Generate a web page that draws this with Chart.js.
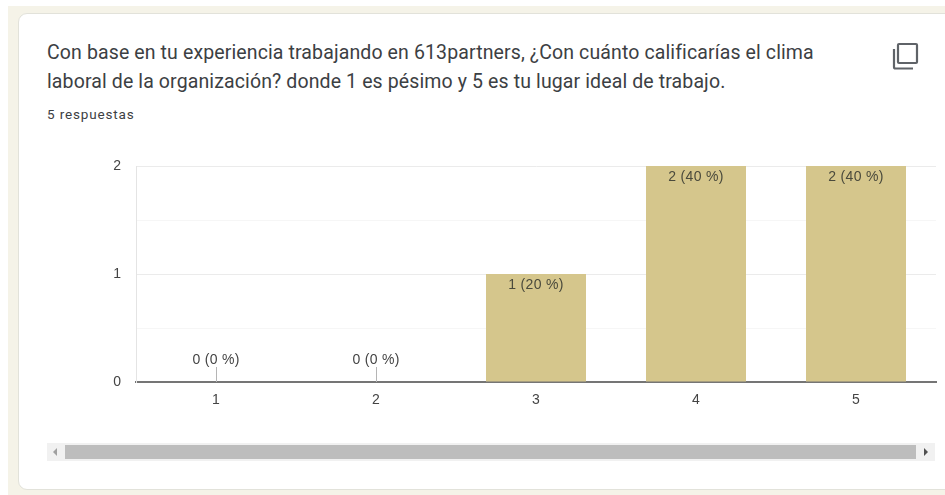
<!DOCTYPE html>
<html lang="es">
<head>
<meta charset="utf-8">
<title>Clima laboral</title>
<script src="https://cdn.jsdelivr.net/npm/chart.js@4"></script>
<style>
html, body { margin: 0; padding: 0; background: #fff; }
body { width: 945px; height: 495px; position: relative; overflow: hidden; }
#page { position: absolute; left: 8px; top: 6px; right: 0; bottom: 0; background: #f5f3e8; }
#card { position: absolute; left: 18px; top: 13px; width: 960px; height: 477px; box-sizing: border-box;
  background: #fff; border: 1px solid #e2e2da; border-radius: 9px; }
#title { position: absolute; left: 47px; top: 38px; width: 830px; margin: 0; font: 19.5px/29px Roboto, sans-serif;
  color: #3c4043; letter-spacing: 0.12px; }
#count { position: absolute; left: 47px; top: 106px; font: 13.5px/16px Roboto, sans-serif; color: #3c4043; letter-spacing: 0.85px; }
#copy { position: absolute; left: 889px; top: 40px; }
#wrap { position: absolute; left: 0; top: 150px; width: 945px; height: 270px; }
#track { position: absolute; left: 47px; top: 443px; width: 888px; height: 18px; background: #f1f1f1; }
#thumb { position: absolute; left: 18px; top: 2px; width: 851px; height: 14px; background: #bdbdbd; }
.arrow { position: absolute; top: 5px; width: 0; height: 0; border-top: 4px solid transparent; border-bottom: 4px solid transparent; }
#arrow-l { left: 6px; border-right: 4px solid #a0a0a0; }
#arrow-r { right: 7px; border-left: 4px solid #505050; }
</style>
</head>
<body>
<div id="page"></div>
<div id="card"></div>
<p id="title">Con base en tu experiencia trabajando en 613partners, ¿Con cuánto calificarías el clima<br>laboral de la organización? donde 1 es pésimo y 5 es tu lugar ideal de trabajo.</p>
<div id="count">5 respuestas</div>
<svg id="copy" width="32" height="32" viewBox="0 0 32 32" fill="none" stroke="#5f6368" stroke-width="2.2">
  <rect x="9" y="4" width="19" height="19" rx="1"/>
  <path d="M5 9v18a1.5 1.5 0 0 0 1.5 1.5H24"/>
</svg>
<div id="wrap"><canvas id="myChart" width="945" height="270"></canvas></div>
<div id="track">
  <div id="thumb"></div>
  <div class="arrow" id="arrow-l"></div>
  <div class="arrow" id="arrow-r"></div>
</div>
<script>
var categories = ["1", "2", "3", "4", "5"];
var counts = [0, 0, 1, 2, 2];
var percents = [0, 0, 20, 40, 40];

var fontFamily = "'Liberation Sans', Arial, sans-serif";

// the value labels: inside the bar, or over a small stem when the value is 0
var barLabels = {
  id: "barLabels",
  afterDatasetsDraw: function(chart) {
    var c = chart.ctx;
    var meta = chart.getDatasetMeta(0);
    c.save();
    c.font = "14px " + fontFamily;
    c.letterSpacing = "0.3px";
    c.textAlign = "center";
    c.textBaseline = "middle";
    for (var i = 0; i < counts.length; i++) {
      var bar = meta.data[i];
      var text = counts[i] + " (" + percents[i] + " %)";
      if (counts[i] == 0) {
        c.fillStyle = "#444";
        c.fillText(text, bar.x, bar.y - 22);
        c.strokeStyle = "#b5b5b5";
        c.lineWidth = 1;
        c.beginPath();
        c.moveTo(Math.round(bar.x) + 0.5, bar.y);
        c.lineTo(Math.round(bar.x) + 0.5, bar.y - 15);
        c.stroke();
      } else {
        c.fillStyle = "#4a4a3c";
        c.fillText(text, bar.x, bar.y + 11);
      }
    }
    c.restore();
  }
};

var myChart = new Chart(document.getElementById("myChart"), {
  type: "bar",
  data: {
    labels: categories,
    datasets: [{
      data: counts,
      backgroundColor: "#d5c68c",
      categoryPercentage: 0.625,
      barPercentage: 1
    }]
  },
  options: {
    responsive: false,
    animation: false,
    layout: { padding: { top: 16, right: 9, left: 0, bottom: 0 } },
    plugins: {
      legend: { display: false },
      tooltip: { enabled: false }
    },
    scales: {
      x: {
        afterFit: function(scale) { scale.height = 38; },
        grid: { display: false },
        border: { color: "#757575", width: 2 },
        ticks: { color: "#444", font: { family: fontFamily, size: 14 }, padding: 2, maxRotation: 0 }
      },
      y: {
        min: 0,
        max: 2,
        afterFit: function(scale) {
          scale.width = 136;
          scale.paddingTop = 0;
          scale.paddingBottom = 0;
        },
        grid: {
          drawTicks: false,
          color: function(ctx) { return ctx.tick.value % 1 == 0 ? "#ebebeb" : "#f6f6f6"; }
        },
        border: { color: "#e4e4e4", width: 1 },
        ticks: {
          stepSize: 0.5,
          color: "#444",
          padding: 15,
          font: { family: fontFamily, size: 14 },
          callback: function(value) { return value % 1 == 0 ? value : ""; }
        }
      }
    }
  },
  plugins: [barLabels]
});
</script>
</body>
</html>
